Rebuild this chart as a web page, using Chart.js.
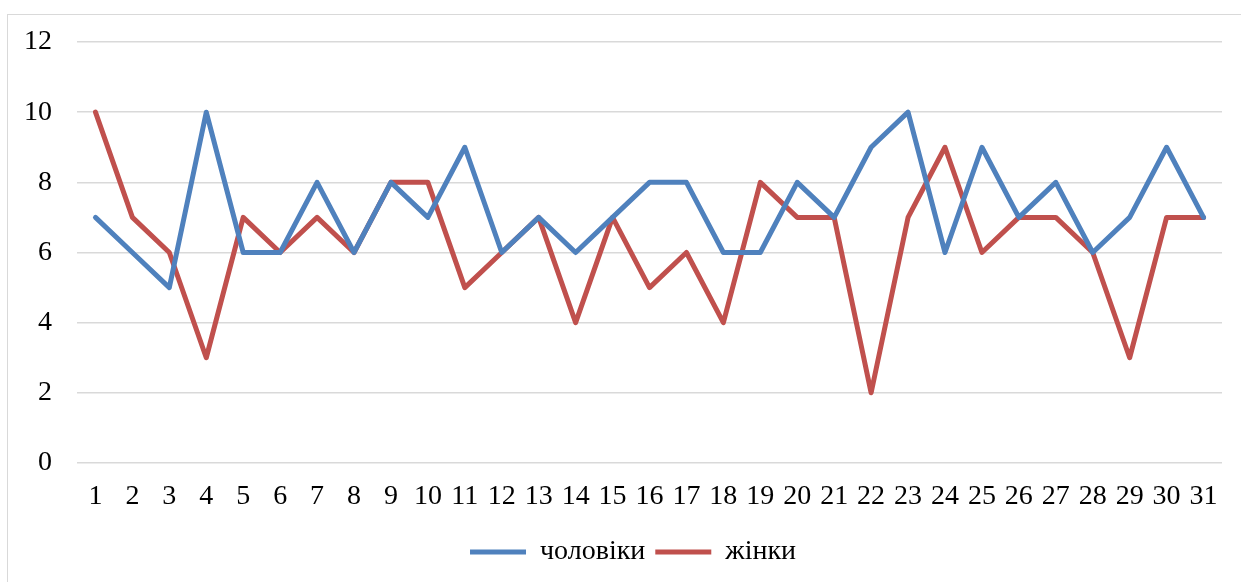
<!DOCTYPE html>
<html>
<head>
<meta charset="utf-8">
<script src="https://cdn.jsdelivr.net/npm/chart.js@4/dist/chart.umd.min.js"></script>
<style>
  html, body { margin: 0; padding: 0; background: #fff; overflow: hidden; }
  #frame { position: absolute; left: 7px; top: 14px; width: 1300px; height: 600px; border: 1.5px solid #d9d9d9; }
  #wrap { position: absolute; left: 0; top: 0; width: 1266px; height: 582px; }
</style>
</head>
<body>
<div id="frame"></div>
<div id="wrap"><canvas id="myChart" width="1266" height="582"></canvas></div>
<script>
  let days = [];
  for (let d = 1; d <= 31; d++) days.push(String(d));

  let men   = [7, 6, 5, 10, 6, 6, 8, 6, 8, 7, 9, 6, 7, 6, 7, 8, 8, 6, 6, 8, 7, 9, 10, 6, 9, 7, 8, 6, 7, 9, 7];
  let women = [10, 7, 6, 3, 7, 6, 7, 6, 8, 8, 5, 6, 7, 4, 7, 5, 6, 4, 8, 7, 7, 2, 7, 9, 6, 7, 7, 6, 3, 7, 7];

  const serif = { family: "'Liberation Serif', 'Times New Roman', serif", size: 28 };

  // nudge the legend a bit right, like in the original
  const legendShift = {
    id: "legendShift",
    afterLayout(chart) {
      chart.legend.left += 22;
      chart.legend.right += 22;
    }
  };

  const ctx = document.getElementById("myChart");
  let myChart = new Chart(ctx, {
    type: "line",
    data: {
      labels: days,
      datasets: [
        { label: "чоловіки", data: men, borderColor: "#4F81BD", backgroundColor: "#4F81BD",
          borderWidth: 5, pointRadius: 0, borderCapStyle: "round", borderJoinStyle: "round", tension: 0 },
        { label: "жінки", data: women, borderColor: "#C0504D", backgroundColor: "#C0504D",
          borderWidth: 5, pointRadius: 0, borderCapStyle: "round", borderJoinStyle: "round", tension: 0 }
      ]
    },
    options: {
      responsive: false,
      animation: false,
      layout: { padding: { left: 0, right: 44, top: 42, bottom: 6 } },
      plugins: {
        tooltip: { enabled: false },
        legend: {
          position: "bottom",
          labels: {
            usePointStyle: true,
            pointStyle: "line",
            pointStyleWidth: 56,
            color: "#000",
            font: serif,
            padding: 10
          }
        }
      },
      scales: {
        x: {
          offset: true,
          grid: { display: false, drawTicks: false },
          border: { display: false },
          ticks: { color: "#000", font: serif, padding: 17, maxRotation: 0, autoSkip: false },
          afterFit: (scale) => { scale.height = 65; }
        },
        y: {
          min: 0,
          max: 12,
          grid: { color: "#d9d9d9", lineWidth: 1.5, drawTicks: false },
          border: { display: false },
          ticks: { stepSize: 2, color: "#000", font: serif, padding: 25 },
          afterFit: (scale) => { scale.width = 77; }
        }
      }
    },
    plugins: [legendShift]
  });
</script>
</body>
</html>
